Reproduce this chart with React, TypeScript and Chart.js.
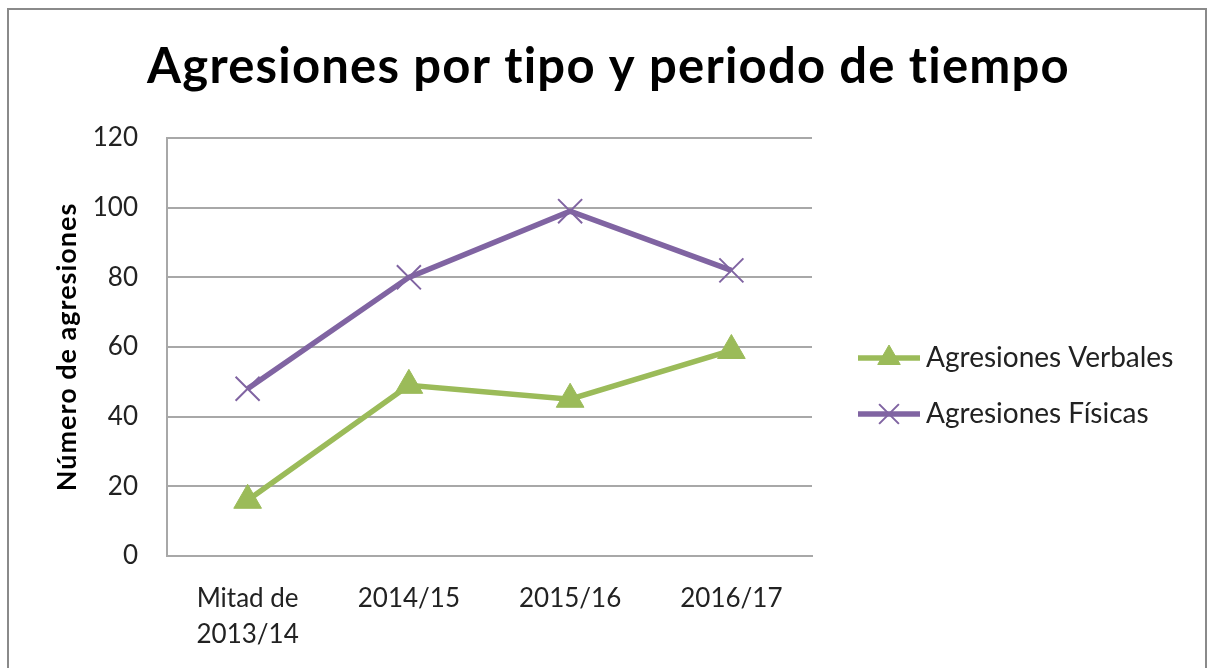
import React, { useEffect, useRef } from "react";
import { Chart, registerables } from "chart.js";
import { drawPoint } from "chart.js/helpers";

Chart.register(...registerables);

const categories: (string | string[])[] = [["Mitad de", "2013/14"], "2014/15", "2015/16", "2016/17"];
const verbales = [16, 49, 45, 59];
const fisicas = [48, 80, 99, 82];
const seriesNames = ["Agresiones Verbales", "Agresiones Físicas"];
const yMin = 0;
const yMax = 120;
const yStep = 20;
const chartTitle = "Agresiones por tipo y periodo de tiempo";
const yTitle = "Número de agresiones";

const GREEN = "#9BBB59";
const PURPLE = "#8064A2";
const GRID = "#a8a8a8";
const TEXT = "#222222";
const FONT = "Lato";

const titles = {
  id: "titles",
  afterDraw(chart: any) {
    const ctx = chart.ctx;
    const area = chart.chartArea;
    ctx.save();
    // main title, centred on the whole canvas
    ctx.fillStyle = "#000";
    ctx.font = `bold 49px ${FONT}`;
    (ctx as any).letterSpacing = "1.2px";
    ctx.textAlign = "center";
    ctx.textBaseline = "alphabetic";
    ctx.fillText(chartTitle, chart.width / 2 + 5, area.top - 55);
    // y-axis title
    ctx.font = `bold 27px ${FONT}`;
    (ctx as any).letterSpacing = "1px";
    ctx.translate(67, (area.top + area.bottom) / 2);
    ctx.rotate(-Math.PI / 2);
    ctx.textBaseline = "middle";
    ctx.fillText(yTitle, 0, 0);
    ctx.restore();
  },
};

const sideLegend = {
  id: "sideLegend",
  afterDraw(chart: any) {
    const ctx = chart.ctx;
    const area = chart.chartArea;
    const x0 = area.right + 46;
    const lineLen = 62;
    const yFirst = (area.top + area.bottom) / 2 + 11;
    const rowGap = 56;
    const markerRadius = [13, 14];
    chart.data.datasets.forEach((ds: any, i: number) => {
      const y = yFirst + i * rowGap;
      ctx.save();
      ctx.strokeStyle = ds.borderColor;
      ctx.lineWidth = ds.borderWidth;
      ctx.lineCap = "butt";
      ctx.beginPath();
      ctx.moveTo(x0, y);
      ctx.lineTo(x0 + lineLen, y);
      ctx.stroke();
      ctx.fillStyle = ds.pointBackgroundColor;
      ctx.strokeStyle = ds.pointBorderColor;
      ctx.lineWidth = ds.pointBorderWidth;
      drawPoint(
        ctx,
        { pointStyle: ds.pointStyle, radius: markerRadius[i], rotation: 0, borderWidth: ds.pointBorderWidth } as any,
        x0 + lineLen / 2,
        y
      );
      ctx.fillStyle = TEXT;
      ctx.font = `28px ${FONT}`;
      ctx.textBaseline = "middle";
      ctx.textAlign = "left";
      ctx.fillText(ds.label, x0 + lineLen + 6, y);
      ctx.restore();
    });
  },
};

export default function App() {
  const ref = useRef<HTMLCanvasElement>(null);

  useEffect(() => {
    if (!ref.current) return;
    Chart.defaults.font.family = FONT;
    const chart = new Chart(ref.current, {
      type: "line",
      data: {
        labels: categories,
        datasets: [
          {
            label: seriesNames[0],
            data: verbales,
            borderColor: GREEN,
            backgroundColor: GREEN,
            borderWidth: 5.5,
            tension: 0,
            pointStyle: "triangle",
            pointRadius: 16,
            pointBackgroundColor: GREEN,
            pointBorderColor: GREEN,
            pointBorderWidth: 1,
          },
          {
            label: seriesNames[1],
            data: fisicas,
            borderColor: PURPLE,
            backgroundColor: PURPLE,
            borderWidth: 5.5,
            tension: 0,
            pointStyle: "crossRot",
            pointRadius: 17,
            pointBackgroundColor: PURPLE,
            pointBorderColor: PURPLE,
            pointBorderWidth: 2,
          },
        ] as any,
      },
      options: {
        responsive: false,
        animation: false,
        devicePixelRatio: 1,
        layout: { padding: { left: 0, right: 395, top: 138, bottom: 0 } },
        plugins: {
          legend: { display: false },
          tooltip: { enabled: false },
          title: { display: false },
        },
        scales: {
          x: {
            offset: true,
            grid: { display: false, drawTicks: false },
            border: { display: true, color: GRID, width: 2 },
            ticks: {
              color: TEXT,
              padding: 25,
              maxRotation: 0,
              font: { family: FONT, size: 26, lineHeight: 1.385 },
            },
            afterFit(scale: any) {
              scale.height = 112;
            },
          },
          y: {
            min: yMin,
            max: yMax,
            grid: { color: GRID, lineWidth: 2, drawTicks: false },
            border: { display: true, color: GRID, width: 2 },
            ticks: {
              stepSize: yStep,
              color: TEXT,
              padding: 29,
              font: { family: FONT, size: 26 },
            },
            afterFit(scale: any) {
              scale.width = 167;
            },
          },
        },
      },
      plugins: [titles, sideLegend],
    } as any);
    return () => chart.destroy();
  }, []);

  return (
    <div
      style={{
        position: "fixed",
        left: 0,
        top: 0,
        width: 1207,
        height: 668,
        background: "#fff",
        overflow: "hidden",
      }}
    >
      <canvas ref={ref} width={1207} height={668} style={{ position: "absolute", left: 0, top: 0 }} />
      <div
        style={{
          position: "absolute",
          left: 7,
          top: 8,
          width: 1200,
          height: 720,
          border: "2px solid #8a8a8a",
          boxSizing: "border-box",
          pointerEvents: "none",
        }}
      />
    </div>
  );
}
